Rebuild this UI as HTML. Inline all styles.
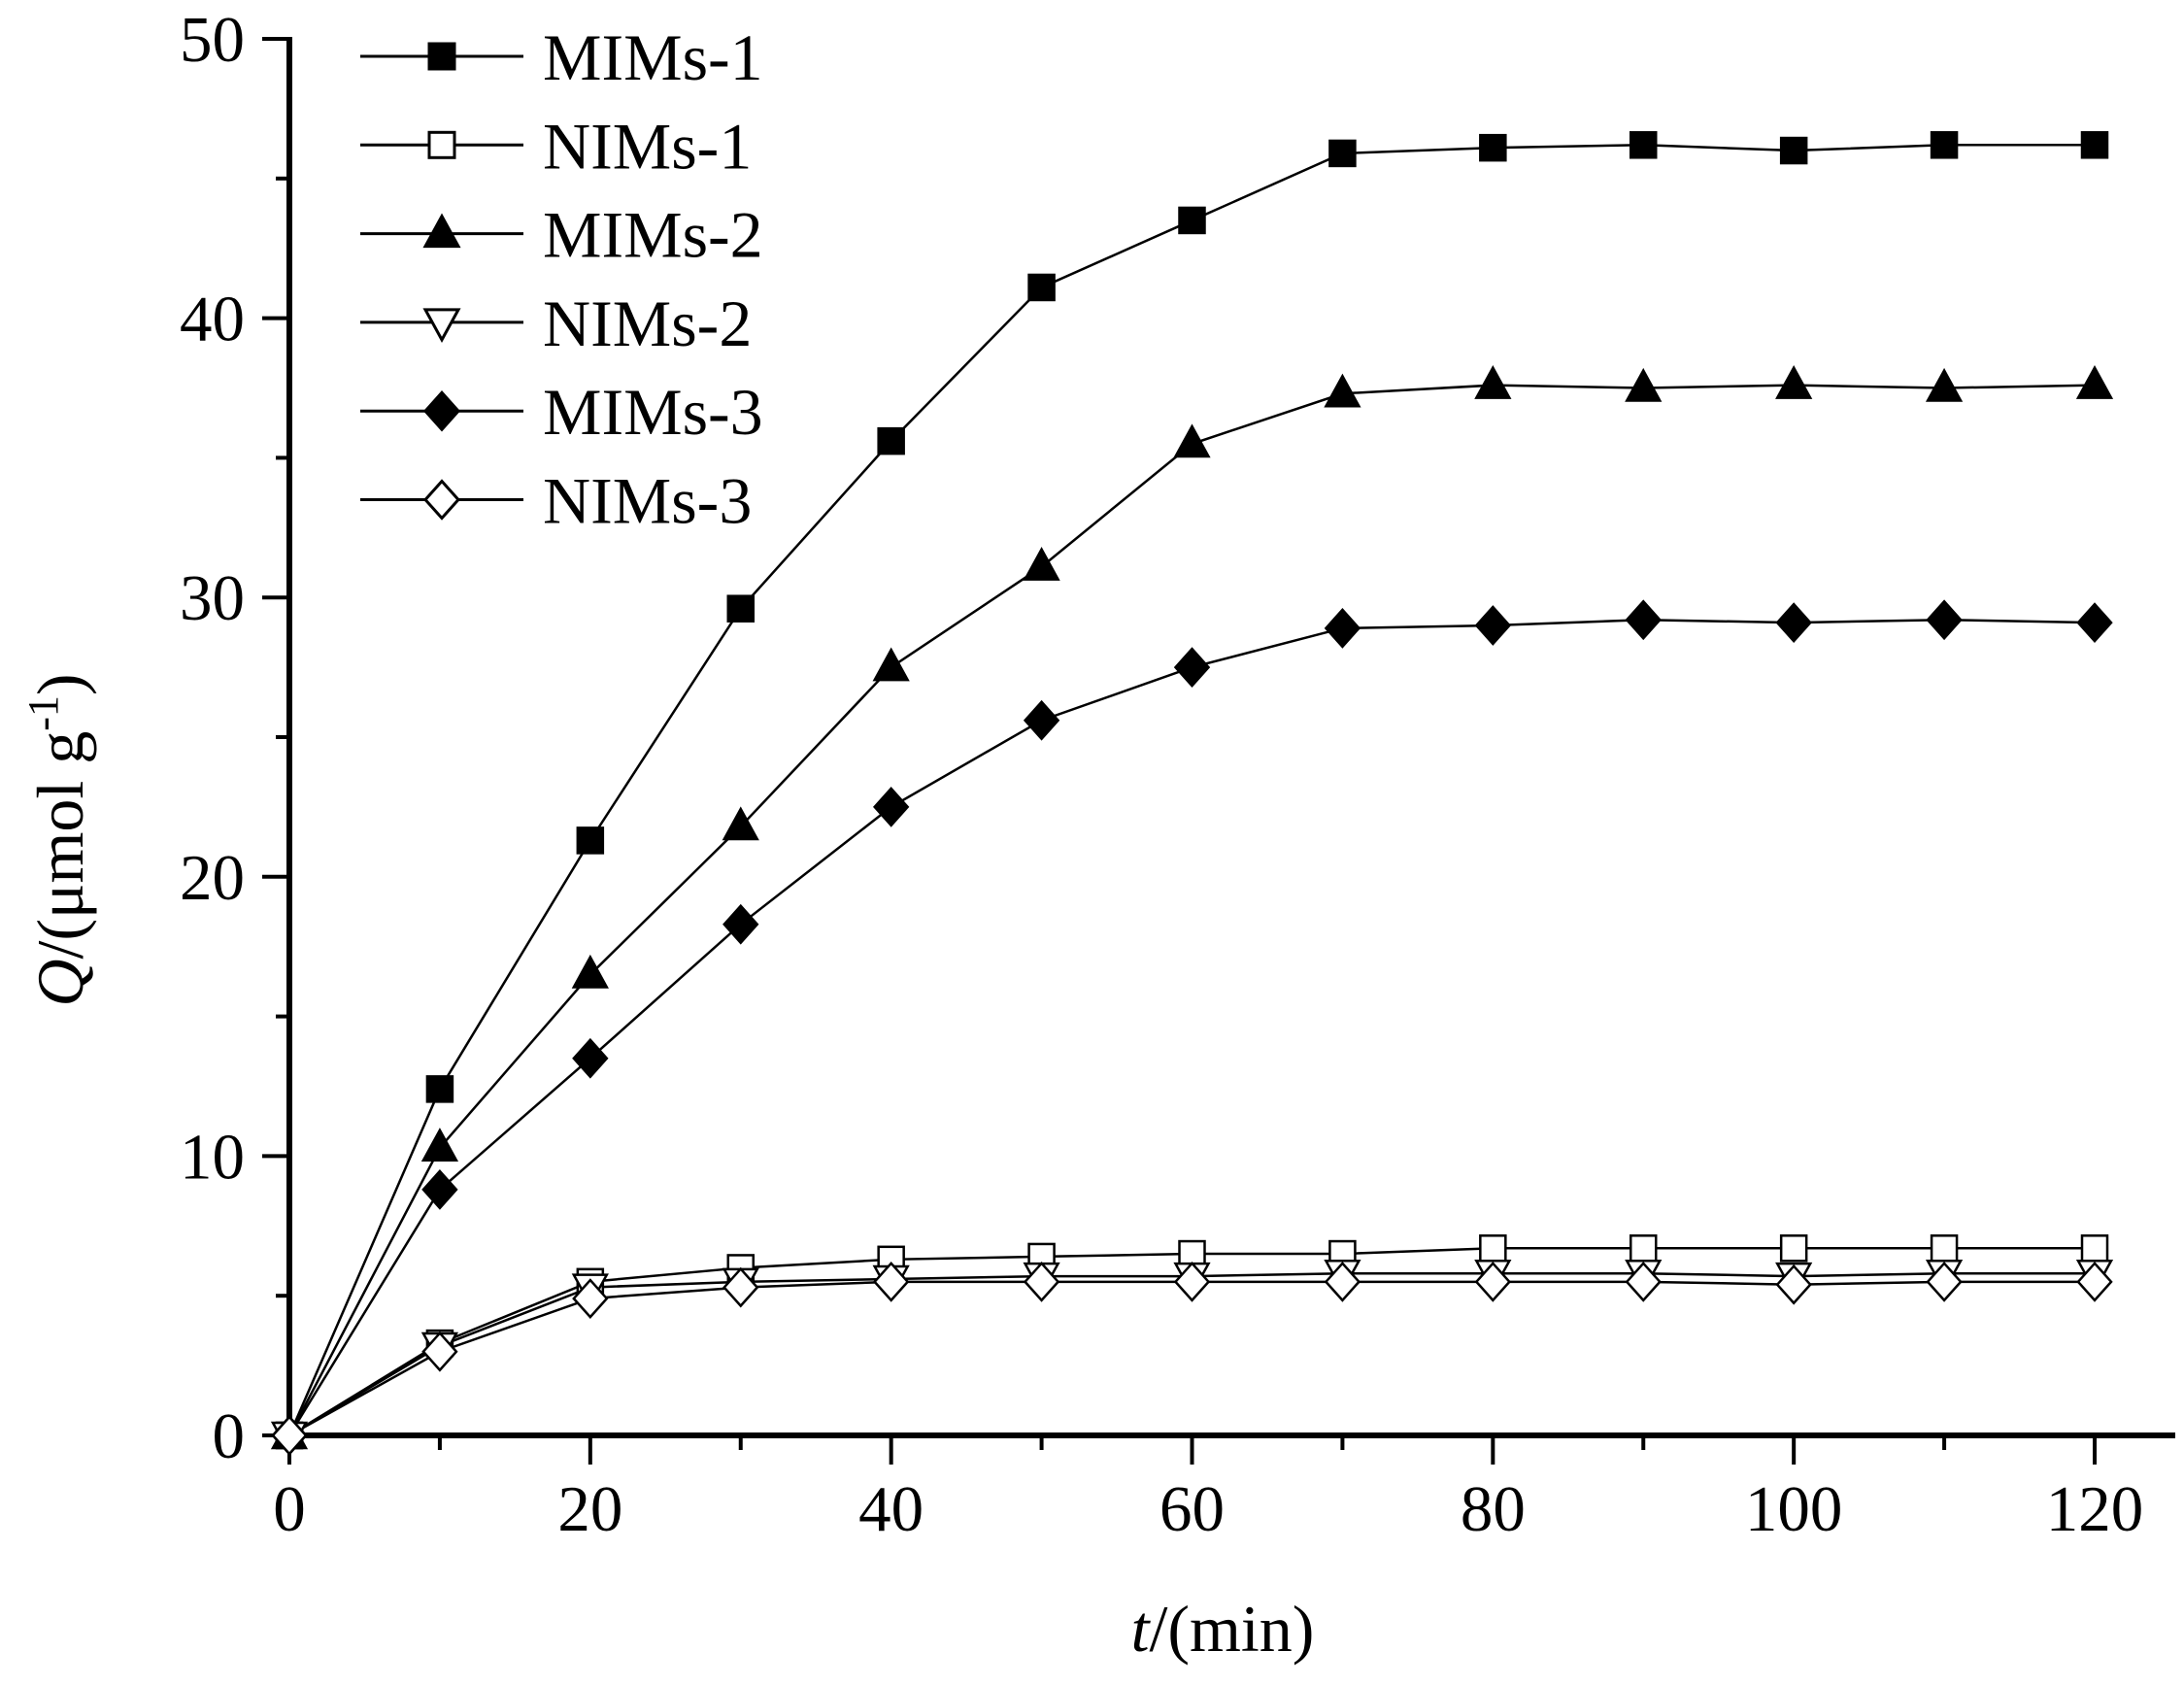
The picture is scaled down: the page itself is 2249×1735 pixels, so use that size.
<!DOCTYPE html>
<html><head><meta charset="utf-8"><style>html,body{margin:0;padding:0;background:#fff}</style></head>
<body>
<svg width="2249" height="1730" viewBox="0 0 2249 1730" xmlns="http://www.w3.org/2000/svg" font-family="Liberation Serif, serif">
<defs>
<g id="sq"><rect x="-13" y="-13" width="26" height="26"/></g>
<g id="tu"><path d="M0,-18 L17,13 L-17,13 Z"/></g>
<g id="td"><path d="M0,18 L17,-13 L-17,-13 Z"/></g>
<g id="di"><path d="M0,-19 L17,0 L0,19 L-17,0 Z"/></g>
</defs>
<g stroke="#000" stroke-width="6" fill="none">
<line x1="298" y1="38" x2="298" y2="1481"/>
<line x1="295" y1="1478" x2="2240" y2="1478"/>
</g>
<g id="ticks" stroke="#000" stroke-width="4"></g>
<g id="labels" font-size="67" fill="#000"></g>
<g id="series"></g>
<text x="1259" y="1700" font-size="68" text-anchor="middle"><tspan font-style="italic">t</tspan>/(min)</text>
<text transform="translate(85,865) rotate(-90)" font-size="68" text-anchor="middle"><tspan font-style="italic">Q</tspan>/(μmol g<tspan dy="-26" font-size="44">-1</tspan><tspan dy="26">)</tspan></text>
<g id="legend"></g>
<script>
var NS="http://www.w3.org/2000/svg";
function el(p,t,a,txt){var e=document.createElementNS(NS,t);for(var k in a)e.setAttribute(k,a[k]);if(txt!==undefined)e.textContent=txt;p.appendChild(e);return e;}
var X=function(v){return 298+v*(2157-298)/120},Y=function(v){return 1478-v*28.76};
var tk=document.getElementById('ticks'),lb=document.getElementById('labels');
for(var v=0;v<=50;v+=5){var L=v%10==0?28:14;el(tk,'line',{x1:298-L,y1:Y(v),x2:298,y2:Y(v)});
 if(v%10==0)el(lb,'text',{x:252,y:Y(v)+23,'text-anchor':'end'},v);}
for(var v=0;v<=120;v+=10){var L=v%20==0?30:15;el(tk,'line',{x1:X(v),y1:1478,x2:X(v),y2:1478+L});
 if(v%20==0)el(lb,'text',{x:X(v),y:1576,'text-anchor':'middle'},v);}
var S=[
["MIMs-1","sq","#000",[0,12.4,21.3,29.6,35.6,41.1,43.5,45.9,46.1,46.2,46.0,46.2,46.2]],
["NIMs-1","sq","#fff",[0,3.3,5.5,6.0,6.3,6.4,6.5,6.5,6.7,6.7,6.7,6.7,6.7]],
["MIMs-2","tu","#000",[0,10.3,16.5,21.8,27.5,31.1,35.5,37.3,37.6,37.5,37.6,37.5,37.6]],
["NIMs-2","td","#fff",[0,3.2,5.3,5.5,5.6,5.7,5.7,5.8,5.8,5.8,5.7,5.8,5.8]],
["MIMs-3","di","#000",[0,8.8,13.5,18.3,22.5,25.6,27.5,28.9,29.0,29.2,29.1,29.2,29.1]],
["NIMs-3","di","#fff",[0,3.0,4.9,5.3,5.5,5.5,5.5,5.5,5.5,5.5,5.4,5.5,5.5]]];
var sg=document.getElementById('series'),lg=document.getElementById('legend');
S.forEach(function(s,i){var pts=s[3].map(function(v,j){return X(j*10)+","+Y(v)}).join(" ");
 el(sg,'polyline',{points:pts,fill:'none',stroke:'#000','stroke-width':2.5});});
S.forEach(function(s){s[3].forEach(function(v,j){el(sg,'use',{href:'#'+s[1],x:X(j*10),y:Y(v),fill:s[2],stroke:'#000','stroke-width':2.5});});});
S.forEach(function(s,i){var y=58+i*91.3;el(lg,'line',{x1:371,y1:y,x2:539,y2:y,stroke:'#000','stroke-width':3});
 el(lg,'use',{href:'#'+s[1],x:455,y:y,fill:s[2],stroke:'#000','stroke-width':3});
 el(lg,'text',{x:559,y:y+24,'font-size':68},s[0]);});
</script>
</svg>
</body></html>
